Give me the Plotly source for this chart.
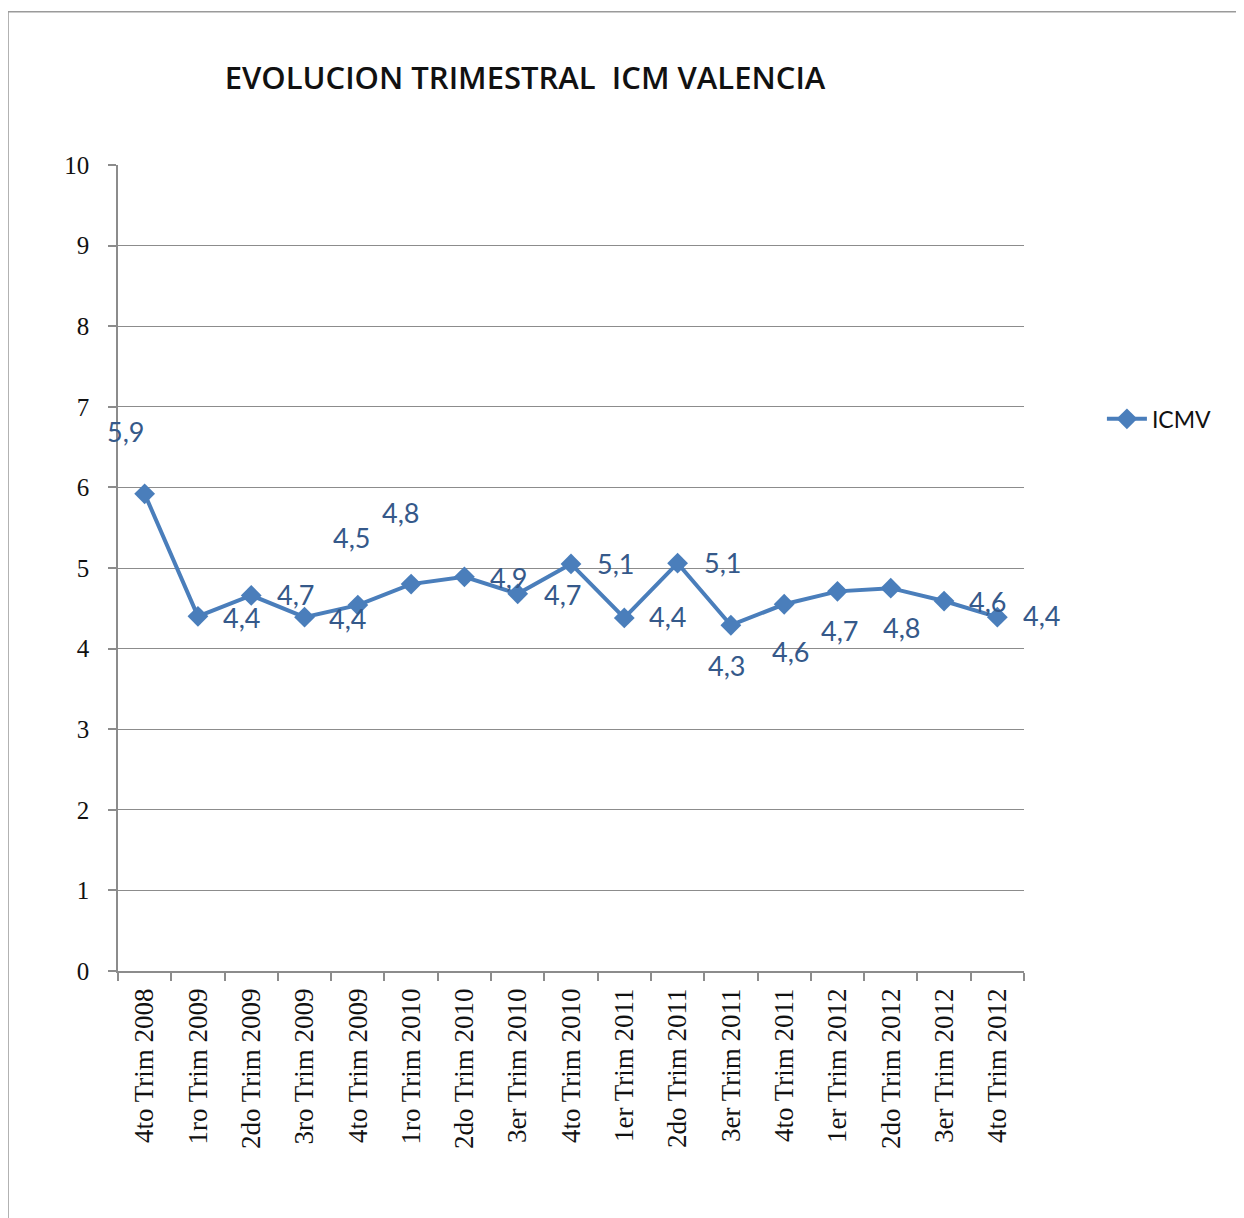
import plotly.graph_objects as go

# Quarters and ICM Valencia values
trimestres = [
    "4to Trim 2008", "1ro Trim 2009", "2do Trim 2009", "3ro Trim 2009",
    "4to Trim 2009", "1ro Trim 2010", "2do Trim 2010", "3er Trim 2010",
    "4to Trim 2010", "1er Trim 2011", "2do Trim 2011", "3er Trim 2011",
    "4to Trim 2011", "1er Trim 2012", "2do Trim 2012", "3er Trim 2012",
    "4to Trim 2012",
]
icmv = [5.92, 4.40, 4.66, 4.39, 4.54, 4.80, 4.89, 4.68, 5.05, 4.38,
        5.06, 4.29, 4.55, 4.71, 4.75, 4.59, 4.39]
etiquetas = ["5,9", "4,4", "4,7", "4,4", "4,5", "4,8", "4,9", "4,7", "5,1",
             "4,4", "5,1", "4,3", "4,6", "4,7", "4,8", "4,6", "4,4"]
y_ticks = list(range(0, 11))

# label offsets (px) as Excel placed them
label_dx = [-19, 44, 44, 43, -6, -11, 44, 45, 44, 43, 45, -4, 6, 2, 11, 43, 44]
label_dy = [62, -1, 1, -1, 68, 72, -1, -1, 0, 1, 1, -40, -47, -39, -39, 0, 2]

LINE_BLUE = "#4a7ebb"
LABEL_BLUE = "#35598a"
GRID = "#8c8c8c"

fig = go.Figure()
fig.add_trace(go.Scatter(
    x=trimestres,
    y=icmv,
    name="ICMV",
    mode="lines+markers",
    line=dict(color=LINE_BLUE, width=4),
    marker=dict(symbol="diamond", size=16, color=LINE_BLUE),
))

for q, v, t, dx, dy in zip(trimestres, icmv, etiquetas, label_dx, label_dy):
    fig.add_annotation(
        x=q, y=v, text=t, showarrow=False,
        xshift=dx, yshift=dy,
        font=dict(family="Lato", size=27, color=LABEL_BLUE),
    )

# outer chart frame (only top/left visible in the crop)
fig.add_shape(type="rect", xref="paper", yref="paper",
              x0=-0.1214, x1=1.26, y0=-0.33, y1=1.19,
              line=dict(color="#9a9a9a", width=1.5), layer="below")

# page body has an 8px margin, so the figure is 8px smaller than the window
fig.update_layout(
    width=1236, height=1210,
    margin=dict(l=110, r=220, t=157, b=247),
    paper_bgcolor="white",
    plot_bgcolor="white",
    title=dict(
        text="EVOLUCION TRIMESTRAL  ICM VALENCIA",
        x=(525 - 8) / 1236, xanchor="center",
        y=1 - 70 / 1210, yanchor="middle",
        font=dict(family="Open Sans", size=31, color="#111111", weight=600),
    ),
    legend=dict(
        x=1.086, y=0.685, xanchor="left", yanchor="middle",
        font=dict(family="Lato", size=23, color="#111111"),
        itemwidth=40,
    ),
    showlegend=True,
)

fig.update_xaxes(
    type="category",
    range=[-0.5, len(trimestres) - 0.5],
    tickson="boundaries",
    ticks="outside", ticklen=8, tickcolor=GRID, tickwidth=1.5,
    showline=True, linecolor=GRID, linewidth=1.5,
    showgrid=False,
    tickangle=-90,
    tickfont=dict(family="Liberation Serif", size=27, color="#111111"),
    ticklabelstandoff=5,
)
fig.update_yaxes(
    range=[0, 10],
    tickvals=y_ticks,
    ticks="outside", ticklen=8, tickcolor=GRID, tickwidth=1.5,
    showline=True, linecolor=GRID, linewidth=1.5,
    showgrid=True, gridcolor=GRID, gridwidth=1.2,
    zeroline=False,
    tickfont=dict(family="Liberation Serif", size=25, color="#111111"),
    ticklabelstandoff=14,
)

fig.write_html("out.html")
